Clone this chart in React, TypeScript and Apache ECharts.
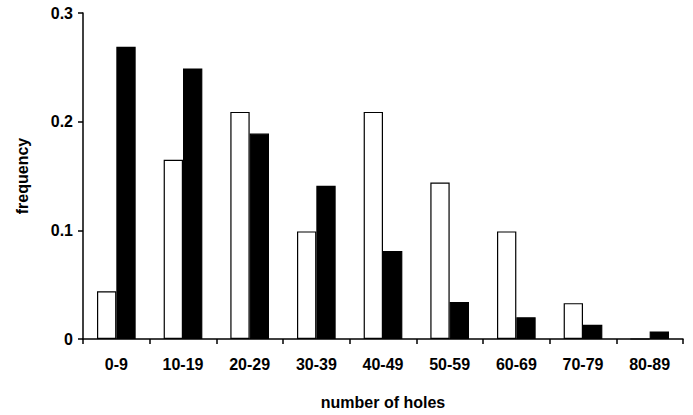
import React, { useEffect, useRef } from "react";
import * as echarts from "echarts";

const categories = ["0-9", "10-19", "20-29", "30-39", "40-49", "50-59", "60-69", "70-79", "80-89"];
const whiteValues = [0.044, 0.165, 0.209, 0.099, 0.209, 0.144, 0.099, 0.033, 0];
const blackValues = [0.269, 0.249, 0.189, 0.141, 0.081, 0.034, 0.020, 0.013, 0.007];
const yTicks = [0, 0.1, 0.2, 0.3];

export default function App() {
  const ref = useRef<HTMLDivElement>(null);
  useEffect(() => {
    if (!ref.current) return;
    const chart = echarts.init(ref.current, undefined, { renderer: "svg" });
    const font = "'Liberation Sans', Arial, sans-serif";
    chart.setOption({
      animation: false,
      backgroundColor: "#ffffff",
      grid: { left: 83, right: 10, top: 13, bottom: 73, containLabel: false },
      xAxis: {
        type: "category",
        data: categories,
        name: "number of holes",
        nameLocation: "middle",
        nameGap: 55,
        nameTextStyle: { fontFamily: font, fontWeight: "bold", fontSize: 16, color: "#000" },
        axisLine: { lineStyle: { color: "#000", width: 1.5 } },
        axisTick: { show: true, length: 5, lineStyle: { color: "#000", width: 1.5 } },
        axisLabel: { fontFamily: font, fontWeight: "bold", fontSize: 16, color: "#000", margin: 17 },
        splitLine: { show: false },
      },
      yAxis: {
        type: "value",
        min: 0,
        max: 0.3,
        interval: 0.1,
        name: "frequency",
        nameLocation: "middle",
        nameGap: 53,
        nameRotate: 90,
        nameTextStyle: { fontFamily: font, fontWeight: "bold", fontSize: 16, color: "#000" },
        axisLine: { show: true, lineStyle: { color: "#000", width: 1.5 } },
        axisTick: { show: true, length: 5, lineStyle: { color: "#000", width: 1.5 } },
        axisLabel: {
          fontFamily: font,
          fontWeight: "bold",
          fontSize: 16,
          color: "#000",
          margin: 10,
          formatter: (v: number) => {
            const t = yTicks.find((y) => Math.abs(y - v) < 1e-9);
            return t === undefined ? "" : t === 0 ? "0" : t.toFixed(1);
          },
        },
        splitLine: { show: false },
      },
      series: [
        {
          type: "bar",
          data: whiteValues,
          barGap: "0%",
          barCategoryGap: "42%",
          itemStyle: { color: "#ffffff", borderColor: "#000", borderWidth: 1.2 },
        },
        {
          type: "bar",
          data: blackValues,
          barGap: "0%",
          barCategoryGap: "42%",
          itemStyle: { color: "#000000", borderColor: "#000", borderWidth: 1.2 },
        },
      ],
    });
    return () => chart.dispose();
  }, []);
  return (
    <div
      ref={ref}
      style={{ position: "fixed", left: 0, top: 0, width: 693, height: 415 }}
    />
  );
}
